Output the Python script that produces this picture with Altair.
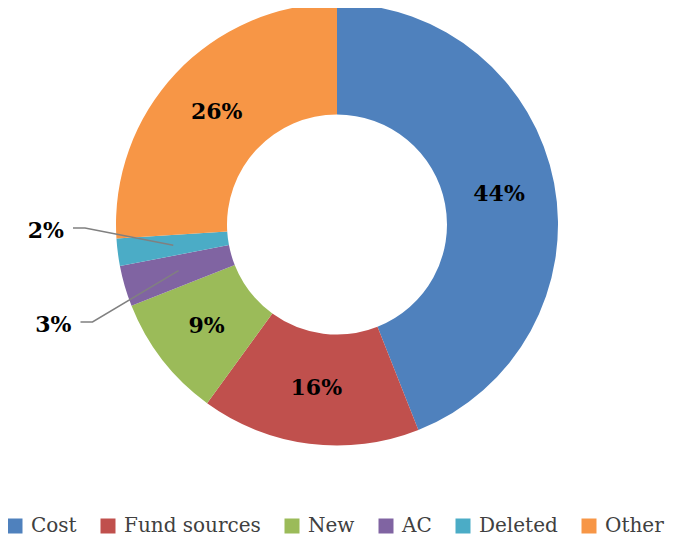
import math
import altair as alt
import pandas as pd

categories = ["Cost", "Fund sources", "New", "AC", "Deleted", "Other"]
values = [44, 16, 9, 3, 2, 26]
colors = ["#4F81BD", "#C0504D", "#9BBB59", "#8064A2", "#4BACC6", "#F79646"]

# layout / style constants
W, H = 664, 532
CX, CY = 329, 216.5
R_OUT, R_IN, R_LAB = 221, 110, 165
FONT = "DejaVu Serif"
# outside labels: (elbow dx, elbow dy) relative to center, horizontal tail length
outside = {"AC": (-244.5, 97.5), "Deleted": (-252, 3.5)}
TAIL = 12

df = pd.DataFrame({"category": categories, "value": values, "order": list(range(len(categories)))})
df["pct"] = df["value"].astype(str) + "%"
df["inside"] = [p if c not in outside else "" for c, p in zip(df["category"], df["pct"])]

# leader lines from slice mid-angle
total = sum(values)
cum = 0
line_rows, out_rows = [], []
for c, v, p in zip(categories, values, df["pct"]):
    mid = (cum + v / 2) / total * 2 * math.pi
    cum += v
    if c in outside:
        ex, ey = outside[c]
        sx, sy = CX + R_LAB * math.sin(mid), CY - R_LAB * math.cos(mid)
        pts = [(CX + ex - TAIL, CY + ey), (CX + ex, CY + ey), (sx, sy)]
        for i, (x, y) in enumerate(pts):
            line_rows.append({"seg": c, "i": i, "x": x, "y": y})
        out_rows.append({"category": c, "pct": p, "x": CX + ex - TAIL - 9, "y": CY + ey + 3})
lines_df = pd.DataFrame(line_rows)
out_df = pd.DataFrame(out_rows)

color_enc = alt.Color(
    "category:N",
    scale=alt.Scale(domain=categories, range=colors),
    sort=categories,
    legend=alt.Legend(title=None),
)

arcs = alt.Chart(df).mark_arc(outerRadius=R_OUT, innerRadius=R_IN).encode(
    theta=alt.Theta("value:Q", stack=True),
    order=alt.Order("order:Q"),
    color=color_enc,
    x=alt.value(CX),
    y=alt.value(CY),
)

text_in = alt.Chart(df).mark_text(
    radius=R_LAB, font=FONT, fontSize=22, fontWeight="bold", color="#000000",
    baseline="middle", align="center"
).encode(
    theta=alt.Theta("value:Q", stack=True),
    order=alt.Order("order:Q"),
    text="inside:N",
    x=alt.value(CX),
    y=alt.value(CY),
)

lines = alt.Chart(lines_df).mark_line(color="#808080", strokeWidth=1.5).encode(
    x=alt.X("x:Q", scale=None),
    y=alt.Y("y:Q", scale=None),
    detail="seg:N",
    order="i:Q",
)

text_out = alt.Chart(out_df).mark_text(
    font=FONT, fontSize=22, fontWeight="bold", color="#000000",
    align="right", baseline="middle"
).encode(
    x=alt.X("x:Q", scale=None),
    y=alt.Y("y:Q", scale=None),
    text="pct:N",
)

chart = alt.layer(arcs, text_in, lines, text_out).properties(
    width=W, height=H, padding=0, autosize="none"
).configure_view(stroke=None).configure_legend(
    orient="none",
    legendX=-3,
    legendY=508,
    direction="horizontal",
    columns=6,
    symbolType="square",
    symbolSize=225,
    symbolStrokeWidth=0,
    labelFont=FONT,
    labelFontSize=20,
    labelColor="#404040",
    labelOffset=6,
    columnPadding=21,
    labelLimit=300,
)

chart.save("out.html", embed_options={"renderer": "svg", "actions": False})
